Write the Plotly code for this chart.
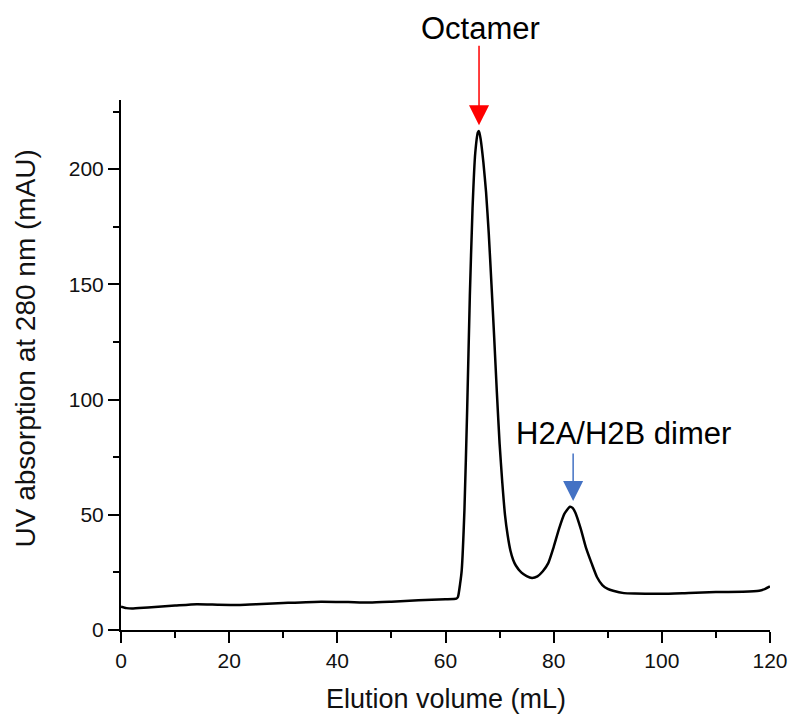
import plotly.graph_objects as go

# Elution volume (mL) and UV absorbance at 280 nm (mAU)
volume = [0, 1, 2, 5, 10, 14, 18, 22, 26, 30, 37, 42, 46, 50, 55, 60, 62, 62.3, 62.7,
          63, 63.5, 64, 64.5, 65, 65.5, 66, 66.2, 66.5, 67, 67.5, 68, 68.5, 69, 69.5,
          70, 70.5, 71, 71.5, 72, 72.5, 73, 74, 75, 76, 77, 78, 79, 80, 81, 82, 83, 83.5,
          84, 85, 86, 87, 88, 89, 90, 91, 93, 95, 100, 105, 110, 115, 118, 119, 120]
absorbance = [10.1, 9.5, 9.3, 9.8, 10.6, 11.2, 11.0, 10.9, 11.3, 11.7, 12.3, 12.1, 11.9,
              12.3, 12.9, 13.3, 13.6, 14.3, 20, 26, 52, 95, 145, 183, 207, 216, 216.5,
              213, 203, 190, 172, 150, 127, 103, 81, 64, 50, 41, 34.5, 30.5, 28, 25, 23.4,
              22.6, 23.3, 25.5, 29, 36, 44, 50.5, 53.5, 53, 51, 44, 35.5, 29, 23, 19.5,
              17.8, 17, 16, 15.8, 15.7, 16.1, 16.5, 16.6, 17, 17.7, 18.9]

x_ticks = [0, 20, 40, 60, 80, 100, 120]
y_ticks = [0, 50, 100, 150, 200]

# annotation anchors (data coordinates of arrow tips)
octamer_tip = (66.2, 219)
dimer_tip = (83.6, 56)

FONT = "Liberation Sans, Arial, sans-serif"

fig = go.Figure()
fig.add_trace(go.Scatter(
    x=volume, y=absorbance, mode="lines",
    line=dict(color="black", width=2.5, shape="spline", smoothing=0.5),
    hoverinfo="x+y", showlegend=False,
))

axis_common = dict(
    showline=True, linewidth=2, linecolor="black", mirror=False,
    showgrid=False, zeroline=False,
    ticks="outside", ticklen=11, tickwidth=2, tickcolor="black",
    tickfont=dict(family=FONT, size=21, color="#111"),
)

fig.update_xaxes(range=[0, 120], tickmode="array", tickvals=x_ticks,
                 minor=dict(ticks="outside", ticklen=6, tickwidth=2, tickcolor="black", dtick=10),
                 **axis_common)
fig.update_yaxes(range=[0, 230], tickmode="array", tickvals=y_ticks,
                 minor=dict(ticks="outside", ticklen=6, tickwidth=2, tickcolor="black", dtick=25),
                 **axis_common)

PLOT_W = 656

# Octamer: arrow + label
fig.add_annotation(
    x=octamer_tip[0], y=octamer_tip[1], xref="x", yref="y",
    text="", showarrow=True, ax=0, ay=-81,
    arrowhead=2, arrowsize=2.67, arrowwidth=1.5, arrowcolor="#ff0000",
)
fig.add_annotation(
    x=(484 - 121) / PLOT_W, y=(630 - 29) / 530, xref="paper", yref="paper",
    text="Octamer", showarrow=False, xanchor="center", yanchor="middle",
    font=dict(family=FONT, size=31, color="black"),
)

# Dimer: arrow + label
fig.add_annotation(
    x=dimer_tip[0], y=dimer_tip[1], xref="x", yref="y",
    text="", showarrow=True, ax=0, ay=-49,
    arrowhead=2, arrowsize=2.67, arrowwidth=1.5, arrowcolor="#4472C4",
)
fig.add_annotation(
    x=(629 - 121) / PLOT_W, y=(630 - 433) / 530, xref="paper", yref="paper",
    text="H2A/H2B dimer", showarrow=False, xanchor="center", yanchor="middle",
    font=dict(family=FONT, size=31, color="black"),
)

fig.add_annotation(
    x=(24 - 121) / PLOT_W, y=(630 - 348.5) / 530, xref="paper", yref="paper",
    text="UV absorption at 280 nm (mAU)", textangle=-90, showarrow=False,
    xanchor="center", yanchor="middle",
    font=dict(family=FONT, size=28, color="#111"),
)
fig.add_annotation(
    x=(449 - 121) / PLOT_W, y=(630 - 699) / 530, xref="paper", yref="paper",
    text="Elution volume (mL)", showarrow=False,
    xanchor="center", yanchor="middle",
    font=dict(family=FONT, size=27, color="#111"),
)

fig.update_layout(
    width=800, height=715, autosize=False,
    margin=dict(l=121, r=23, t=100, b=85),
    paper_bgcolor="white", plot_bgcolor="white",
)

fig.write_html("out.html")
